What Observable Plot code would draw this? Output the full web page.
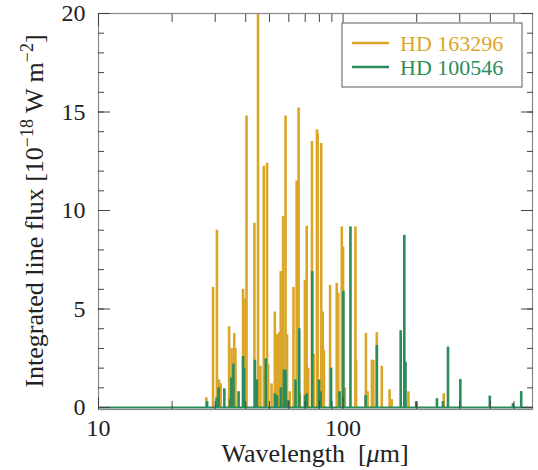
<!DOCTYPE html>
<html><head><meta charset="utf-8">
<script src="https://cdn.jsdelivr.net/npm/d3@7"></script>
<script src="https://cdn.jsdelivr.net/npm/@observablehq/plot@0.6"></script>
<style>body{margin:0;background:#fff} svg{display:block}</style>
</head><body><div id="chart"></div>
<script>
const seriesNames = ["HD 163296", "HD 100546"];
const seriesColors = ["#dba628", "#2b8c5b"];

const hd163296Wavelength = [27.6,29.4,30.5,31.1,31.6,34.2,35.0,35.3,35.9,36.3,39.0,39.6,40.3,43.4,44.9,45.9,47.4,48.9,49.4,51.0,52.6,53.7,54.8,55.6,56.1,56.9,58.2,59.0,60.5,62.7,64.6,65.8,66.6,69.8,71.0,72.0,74.6,75.8,78.2,78.7,81.4,82.6,83.5,88.5,94.2,95.5,98.8,100.0,101.7,112.3,113.0,124.0,126.0,131.2,133.0,137.4,144.0,155.0,158.0,185.0,200.0,258.0];
const hd163296Flux =       [0.5,6.1,9.0,1.4,1.2,4.1,3.0,2.6,3.75,3.0,6.0,5.5,14.8,9.35,21,2.1,12.25,12.4,2.2,1.2,4.85,3.7,3.8,6.9,6.8,9.7,14.8,3.7,0.8,6.1,11.5,15.2,0.7,6.45,9.2,2.0,13.5,2.7,14.1,13.9,13.4,4.85,2.9,6.2,6.3,5.8,9.17,8.15,1.0,9.17,2.4,3.76,0.8,2.4,2.4,3.8,2.1,0.9,0.4,0.8,0.2,0.7];

const hd100546Wavelength = [27.8,30.4,31.0,32.7,34.5,34.9,35.6,37.4,39.0,39.4,43.6,44.4,48.3,52.6,53.7,55.7,57.3,58.2,59.7,63.9,66.2,69.9,71.1,74.8,79.7,81.0,89.3,96.7,100.3,107.2,123.6,137.4,172.0,178.0,180.0,199.0,242.0,256.0,268.5,301.6,398.0,495.0,535.0];
const hd100546Flux =       [0.3,0.5,1.0,0.95,0.4,1.5,2.2,0.8,2.6,2.0,2.4,1.4,2.47,0.7,0.6,1.0,1.9,1.9,0.35,1.4,4.0,0.6,0.7,6.9,1.4,0.8,2.0,0.8,5.9,9.17,0.6,3.15,3.9,8.74,2.3,0.3,0.45,0.3,3.07,1.42,0.58,0.2,0.81];

const baselineFlux = [0];
const xTickLabels = [10, 100];
const xMinorTicks = [20,30,40,50,60,70,80,90,200,300,400,500];
const xMajorTicks = [10, 100];
const yTickLabels = [0, 5, 10, 15, 20];
const yMinorTicks = d3.range(0, 21, 1);

const orange = hd163296Wavelength.map((w, i) => ({w, f: hd163296Flux[i]}));
const green = hd100546Wavelength.map((w, i) => ({w, f: hd100546Flux[i]}));

const tickColor = "#444";
const plot = Plot.plot({
  width: 538, height: 470,
  marginLeft: 98, marginRight: 6, marginTop: 13, marginBottom: 61,
  style: {fontFamily: "'Liberation Serif', 'DejaVu Serif', serif", background: "white", color: "#222"},
  x: {type: "log", domain: [10, 595]},
  y: {domain: [-0.1, 20]},
  marks: [
    Plot.ruleX(orange, {x: "w", y1: 0, y2: "f", stroke: seriesColors[0], strokeWidth: 2.6, clip: true}),
    Plot.ruleX(green, {x: "w", y1: 0, y2: "f", stroke: seriesColors[1], strokeWidth: 2.6, clip: true}),
    Plot.ruleY(baselineFlux, {stroke: seriesColors[1], strokeWidth: 2}),
    Plot.frame({stroke: "#888", strokeWidth: 1.2}),
    Plot.axisY({anchor: "left", ticks: yMinorTicks, tickSize: -6, text: null, stroke: tickColor, label: null}),
    Plot.axisY({anchor: "left", ticks: yTickLabels, tickSize: -12, text: null, stroke: tickColor, label: null}),
    Plot.axisY({anchor: "right", ticks: yMinorTicks, tickSize: -6, text: null, stroke: tickColor, label: null}),
    Plot.axisY({anchor: "right", ticks: yTickLabels, tickSize: -12, text: null, stroke: tickColor, label: null}),
    Plot.axisY({anchor: "left", ticks: yTickLabels, tickSize: 0, tickPadding: 13, fontSize: 24, label: null}),
    Plot.axisX({anchor: "top", ticks: xMinorTicks, tickSize: -8, text: null, stroke: tickColor, label: null}),
    Plot.axisX({anchor: "top", ticks: xMajorTicks, tickSize: -12, text: null, stroke: tickColor, label: null}),
    Plot.axisX({anchor: "bottom", ticks: xMinorTicks, tickSize: -8, text: null, stroke: tickColor, label: null}),
    Plot.axisX({anchor: "bottom", ticks: xMajorTicks, tickSize: -12, text: null, stroke: tickColor, label: null}),
    Plot.axisX({anchor: "bottom", ticks: xTickLabels, tickSize: 0, tickPadding: 9, tickFormat: d => String(d), fontSize: 24, label: null})
  ]
});

const svg = d3.select(plot);
// y-axis label
const yl = svg.append("text")
  .attr("transform", "translate(43,211) rotate(-90)")
  .attr("text-anchor", "middle").attr("font-size", 26).attr("fill", "#222");
yl.append("tspan").text("Integrated line flux [10");
yl.append("tspan").attr("font-size", 18).attr("dy", -10).text("\u221218");
yl.append("tspan").attr("dy", 10).text(" W m");
yl.append("tspan").attr("font-size", 18).attr("dy", -10).text("\u22122");
yl.append("tspan").attr("dy", 10).text("]");
// x-axis label
const xl = svg.append("text")
  .attr("x", 315).attr("y", 462).attr("text-anchor", "middle")
  .attr("font-size", 26).attr("fill", "#222").style("white-space", "pre");
xl.append("tspan").text("Wavelength  [");
xl.append("tspan").attr("font-style", "italic").text("\u03bc");
xl.append("tspan").text("m]");
// legend
const lg = svg.append("g").attr("text-anchor", "start");
lg.append("rect").attr("x", 342).attr("y", 23).attr("width", 180).attr("height", 64)
  .attr("fill", "white").attr("stroke", "#777").attr("stroke-width", 1.2);
seriesNames.forEach((name, i) => {
  const yy = 43 + i * 24;
  lg.append("line").attr("x1", 352).attr("x2", 389).attr("y1", yy).attr("y2", yy)
    .attr("stroke", seriesColors[i]).attr("stroke-width", 2.5);
  lg.append("text").attr("x", 400).attr("y", yy + 7.5).attr("font-size", 22)
    .attr("text-anchor", "start").attr("fill", seriesColors[i]).text(name);
});

document.getElementById("chart").appendChild(plot);
</script>
</body></html>
